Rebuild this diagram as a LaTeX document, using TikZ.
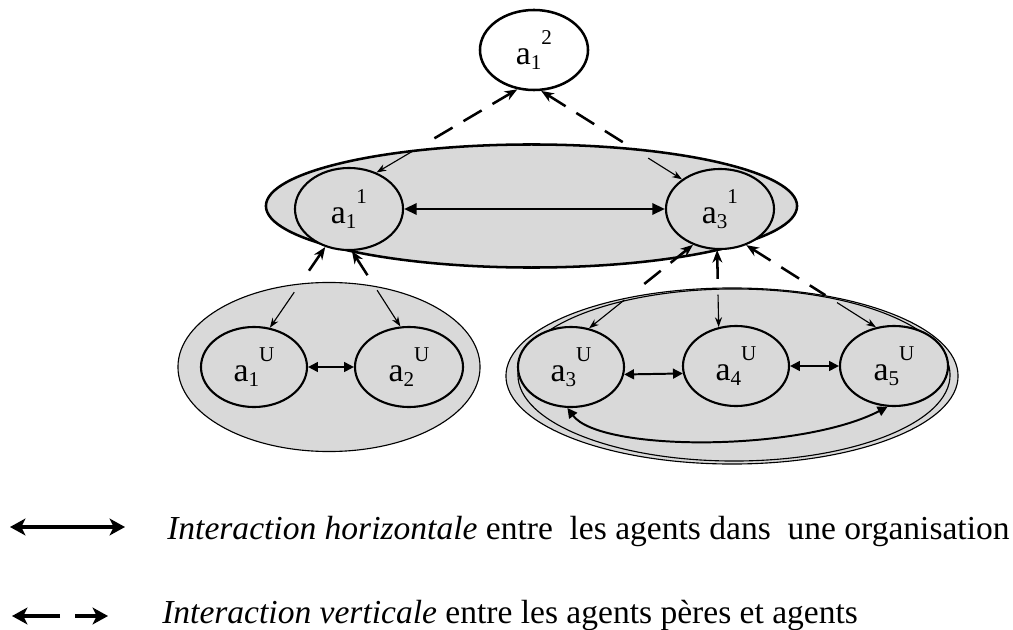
\documentclass[tikz,border=0pt]{standalone}
\usepackage{fontspec}
\setmainfont{Liberation Serif}
\usetikzlibrary{shapes.geometric,arrows.meta,calc}
\definecolor{gfill}{gray}{0.85}
\newcommand{\agl}[2]{a\raisebox{-0.3ex}{\fontsize{15}{15}\selectfont #1}\raisebox{1.3ex}{\fontsize{15}{15}\selectfont #2}}
\begin{document}
\begin{tikzpicture}[x=0.025cm,y=-0.025cm,
 agent/.style={ellipse, draw, line width=1.5pt, fill=gfill, inner sep=0pt, font=\fontsize{24}{24}\selectfont},
 org/.style={ellipse, draw, line width=0.8pt, fill=gfill, inner sep=0pt},
 hor/.style={line width=1.8pt, {Triangle[length=9pt,width=8pt]}-{Triangle[length=9pt,width=8pt]}},
 horsm/.style={line width=1.4pt, {Triangle[length=7pt,width=7pt]}-{Triangle[length=7pt,width=7pt]}},
 vthick/.style={line width=1.8pt, dash pattern=on 15pt off 9pt, {Stealth[length=9pt,width=7pt]}-},
 vthin/.style={line width=0.8pt, -{Stealth[length=7pt,width=5pt]}},
 legarrow/.style={line width=2.3pt, {Stealth[length=11pt,width=12pt,inset=3pt]}-{Stealth[length=11pt,width=12pt,inset=3pt]}},
 legone/.style={line width=2.5pt, -{Stealth[length=11pt,width=12pt,inset=3pt]}},
 legtxt/.style={anchor=base west, inner sep=0pt, font=\fontsize{23.85}{24}\selectfont},
]
\useasboundingbox (0,0) rectangle (1013,630);
% level 1 organisation
\node[org, line width=1.8pt, minimum width=13.275cm, minimum height=3.075cm] (L1) at (531.5,206) {};
\node[agent, minimum width=2.7cm, minimum height=2.05cm] (a11) at (349,209) {\agl{1}{1}};
\node[agent, minimum width=2.7cm, minimum height=2.0cm] (a31) at (720,209) {\agl{3}{1}};
% top agent
\node[agent, fill=white, line width=1.8pt, minimum width=2.7cm, minimum height=2.0cm] (a12) at (534,50) {\agl{1}{2}};
% left group
\node[org, minimum width=7.55cm, minimum height=4.225cm] (G1) at (329,367) {};
\node[agent, minimum width=2.65cm, minimum height=2.0cm] (a1U) at (254,367) {\agl{1}{U}};
\node[agent, minimum width=2.7cm, minimum height=2.0cm] (a2U) at (409,367) {\agl{2}{U}};
% right group
\node[org, minimum width=11.3cm, minimum height=4.4cm] (G2) at (732,376) {};
\node[org, fill=none, minimum width=10.8cm, minimum height=4.3cm] (G2b) at (734,375) {};
\node[agent, minimum width=2.65cm, minimum height=2.0cm] (a3U) at (571,367) {\agl{3}{U}};
\node[agent, minimum width=2.65cm, minimum height=2.0cm] (a4U) at (736,366) {\agl{4}{U}};
\node[agent, minimum width=2.7cm, minimum height=2.0cm] (a5U) at (894,366) {\agl{5}{U}};
% horizontal interactions
\draw[hor] (a11.east) -- (a31.west);
\draw[horsm] (a1U.east) -- (a2U.west);
\draw[horsm] (a3U.352) -- (a4U.188);
\draw[horsm] (a4U.east) -- (a5U.west);
\draw[horsm] (a3U.265) .. controls (600,452) and (800,452) .. (a5U.261);
% vertical interactions
\draw[vthick] (a12.247) -- ($(a12.247)!0.66!(a11.53)$);
\draw[vthin] ($(a12.247)!0.74!(a11.53)$) -- (a11.53);
\draw[vthick] (a12.280) -- ($(a12.280)!0.66!(a31.142)$);
\draw[vthin] ($(a12.280)!0.76!(a31.142)$) -- (a31.142);
\draw[vthick] (a11.238) -- ($(a11.238)!0.36!(a1U.68)$);
\draw[vthin] ($(a11.238)!0.56!(a1U.68)$) -- (a1U.68);
\draw[vthick] (a11.274) -- ($(a11.274)!0.37!(a2U.102)$);
\draw[vthin] ($(a11.274)!0.52!(a2U.102)$) -- (a2U.102);
\draw[vthick] (a31.233) -- ($(a31.233)!0.54!(a3U.65)$);
\draw[vthin] ($(a31.233)!0.66!(a3U.65)$) -- (a3U.65);
\draw[vthick] (a31.266) -- ($(a31.266)!0.45!(a4U.114)$);
\draw[vthin] ($(a31.266)!0.58!(a4U.114)$) -- (a4U.114);
\draw[vthick] (a31.306) -- ($(a31.306)!0.61!(a5U.115)$);
\draw[vthin] ($(a31.306)!0.70!(a5U.115)$) -- (a5U.115);
% legend
\coordinate (l1a) at (10,527);
\coordinate (l1b) at (125,527);
\draw[legarrow] (l1a) -- (l1b);
\coordinate (l2a) at (60,616);
\coordinate (l2b) at (12,616);
\coordinate (l2c) at (75,616);
\coordinate (l2d) at (108,616);
\draw[legone] (l2a) -- (l2b);
\draw[legone] (l2c) -- (l2d);
\node[legtxt] (t1) at (167,539) {\textit{Interaction horizontale} entre\ \ les agents dans\ \ une organisation};
\node[legtxt] (t2) at (162,623) {\textit{Interaction verticale} entre les agents pères et agents};
\end{tikzpicture}
\end{document}
